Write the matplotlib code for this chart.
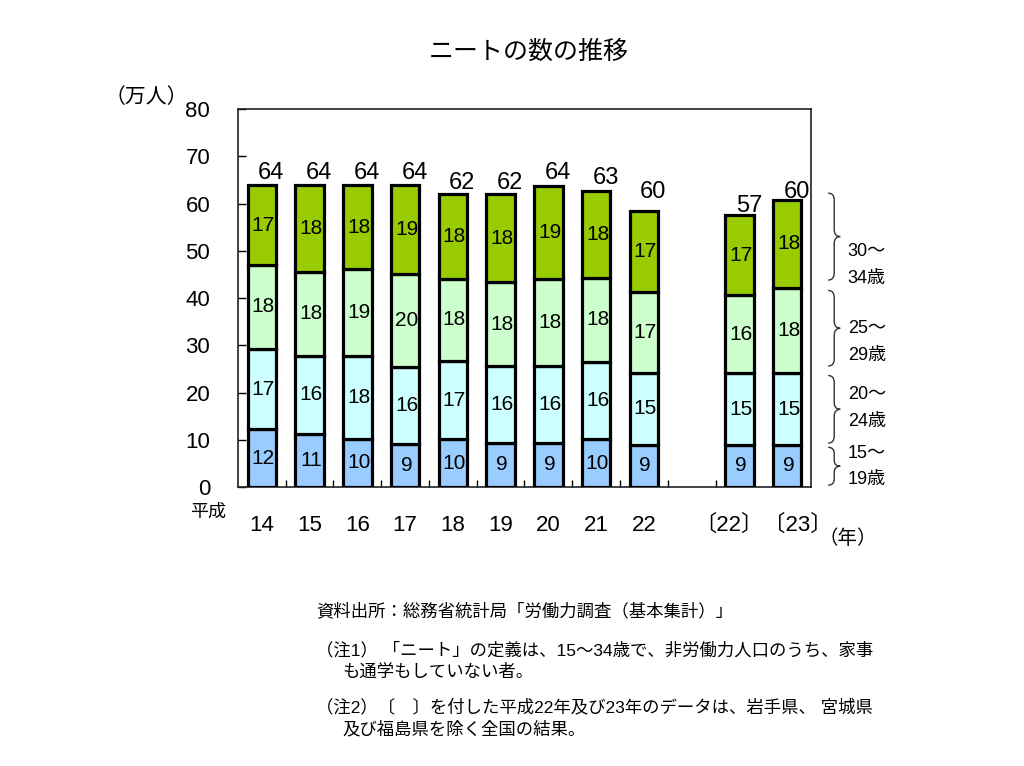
import numpy as np
import matplotlib
matplotlib.use("Agg")
import matplotlib.pyplot as plt
from matplotlib.path import Path
from matplotlib.patches import PathPatch

plt.rcParams['font.family'] = ['Liberation Sans', 'Noto Sans CJK JP', 'DejaVu Sans']

# --- data (万人) ---
years = ['14', '15', '16', '17', '18', '19', '20', '21', '22', '', '〔22〕', '〔23〕']
# bar heights (unrounded), None = empty slot
age15_19 = [12.2, 11.2, 10.2, 9.2, 10.1, 9.4, 9.4, 10.1, 8.9, None, 8.9, 8.9]
age20_24 = [17.0, 16.6, 17.6, 16.2, 16.6, 16.2, 16.2, 16.4, 15.3, None, 15.2, 15.2]
age25_29 = [17.8, 17.7, 18.3, 19.6, 17.4, 17.8, 18.4, 17.8, 17.1, None, 16.5, 18.1]
age30_34 = [16.9, 18.4, 17.8, 18.9, 18.0, 18.6, 19.8, 18.4, 17.2, None, 16.9, 18.5]
# published (rounded) figures printed on the bars
lab15_19 = [12, 11, 10, 9, 10, 9, 9, 10, 9, None, 9, 9]
lab20_24 = [17, 16, 18, 16, 17, 16, 16, 16, 15, None, 15, 15]
lab25_29 = [18, 18, 19, 20, 18, 18, 18, 18, 17, None, 16, 18]
lab30_34 = [17, 18, 18, 19, 18, 18, 19, 18, 17, None, 17, 18]
totals = [64, 64, 64, 64, 62, 62, 64, 63, 60, None, 57, 60]
groups = [('15～', '19歳'), ('20～', '24歳'), ('25～', '29歳'), ('30～', '34歳')]
colors = ['#99CCFF', '#CCFFFF', '#CCFFCC', '#99CC00']

fig = plt.figure(figsize=(10.24, 7.66), dpi=100)
ax = fig.add_axes([0.2324, 0.3642, 0.5596, 0.4935])

x = np.arange(len(years))
idx = [i for i in x if totals[i] is not None]
series = [age15_19, age20_24, age25_29, age30_34]
labels = [lab15_19, lab20_24, lab25_29, lab30_34]
bottom = np.zeros(len(idx))
for vals, labs, col in zip(series, labels, colors):
    h = np.array([vals[i] for i in idx])
    ax.bar(idx, h, 0.6, bottom=bottom, color=col, edgecolor='black', linewidth=2.3, zorder=3)
    for j, i in enumerate(idx):
        ax.text(i + 0.03, bottom[j] + h[j] / 2, str(labs[i]), ha='center', va='center',
                fontsize=15, zorder=4)
    bottom = bottom + h

for i in idx:
    ax.text(i + 0.2, totals[i] + 0.1, str(totals[i]), ha='center', va='bottom', fontsize=17)

ax.set_xlim(-0.5, len(years) - 0.5)
ax.set_ylim(0, 80)
ax.set_yticks(np.arange(0, 81, 10))
ax.tick_params(axis='y', direction='in', length=6, width=1, pad=20, labelsize=16)
# the two bracketed years share one label, as in the original
tick_pos = list(x[:9]) + [10.5]
tick_lab = years[:9] + [years[10] + years[11]]
ax.set_xticks(tick_pos)
ax.set_xticklabels(tick_lab, fontsize=16)
ax.tick_params(axis='x', length=0, pad=20)
ax.set_xticks(np.arange(0.5, len(years) - 1, 1), minor=True)
ax.tick_params(axis='x', which='minor', direction='in', length=5, width=1)
for s in ax.spines.values():
    s.set_color('#222222')
    s.set_linewidth(1.2)

# braces on the right
trans = ax.get_yaxis_transform()
last = [v[-1] for v in series]
edges = np.concatenate([[0], np.cumsum(last)])
spans = [(edges[k] + 0.4, edges[k + 1] - 0.5) for k in range(4)]
spans[2] = (edges[2] + 1.5, edges[3] - 0.6)
spans[3] = (edges[3] + 1.6, edges[4] + 1.5)
label_mid = [4.4, 16.7, 30.7, 47.0]
x0, w = 1.03, 0.021
for (lo, hi), (l1, l2), ym in zip(spans, groups, label_mid):
    mid = (lo + hi) / 2
    r = min(1.5, (hi - lo) / 6)
    verts = [(x0, hi), (x0 + w / 2, hi), (x0 + w / 2, hi - r),
             (x0 + w / 2, mid + r),
             (x0 + w / 2, mid), (x0 + w, mid),
             (x0 + w / 2, mid), (x0 + w / 2, mid - r),
             (x0 + w / 2, lo + r),
             (x0 + w / 2, lo), (x0, lo)]
    codes = [Path.MOVETO, Path.CURVE3, Path.CURVE3, Path.LINETO,
             Path.CURVE3, Path.CURVE3, Path.CURVE3, Path.CURVE3,
             Path.LINETO, Path.CURVE3, Path.CURVE3]
    ax.add_patch(PathPatch(Path(verts, codes), transform=trans, fill=False,
                           edgecolor='#333333', linewidth=1, clip_on=False))
    ax.text(1.064, ym + 2.8, l1, transform=trans, fontsize=13, va='center', ha='left')
    ax.text(1.064, ym - 2.8, l2, transform=trans, fontsize=13, va='center', ha='left')

# titles and notes
fig.text(529 / 1024, 1 - 52 / 766, 'ニートの数の推移', ha='center', va='center', fontsize=18)
fig.text(146 / 1024, 1 - 97 / 766, '（万人）', ha='center', va='center', fontsize=15)
fig.text(208 / 1024, 1 - 512 / 766, '平成', ha='center', va='center', fontsize=13)
fig.text(848 / 1024, 1 - 539 / 766, '（年）', ha='center', va='center', fontsize=14)

notes = [(316, 611, '資料出所：総務省統計局「労働力調査（基本集計）」'),
         (316, 650, '（注1） 「ニート」の定義は、15～34歳で、非労働力人口のうち、家事'),
         (342, 672, 'も通学もしていない者。'),
         (316, 707, '（注2）〔　〕を付した平成22年及び23年のデータは、岩手県、 宮城県'),
         (342, 729, '及び福島県を除く全国の結果。')]
for nx, ny, t in notes:
    fig.text(nx / 1024, 1 - ny / 766, t, ha='left', va='center', fontsize=12.5)

fig.savefig('out.png', dpi=100)
